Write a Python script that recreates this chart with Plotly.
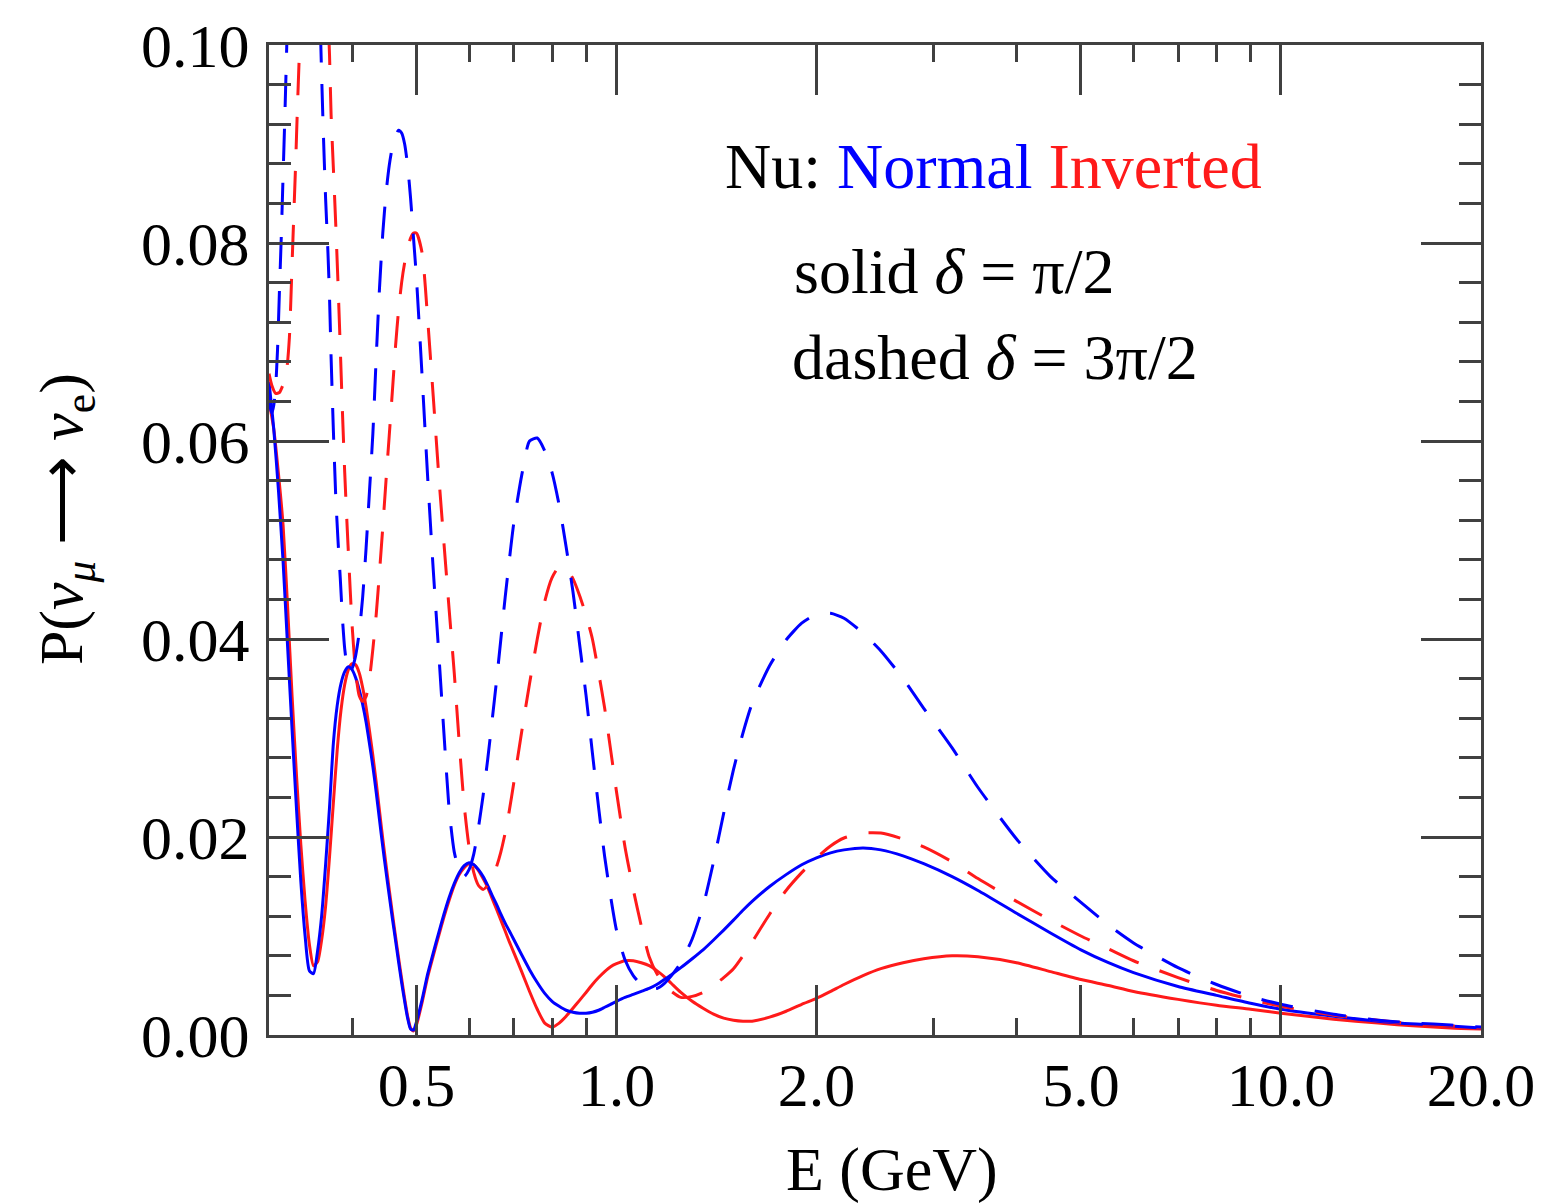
import math
import plotly.graph_objects as go

# Neutrino energy grid (GeV) shared by the two solid curves
energy = [
    0.300, 0.305, 0.310, 0.315, 0.320, 0.325, 0.330, 0.335, 0.340, 0.345,
    0.350, 0.355, 0.360, 0.365, 0.370, 0.375, 0.380, 0.385, 0.390, 0.395,
    0.400, 0.405, 0.410, 0.415, 0.420, 0.425, 0.430, 0.435, 0.440, 0.445,
    0.450, 0.455, 0.460, 0.465, 0.470, 0.475, 0.480, 0.485, 0.490, 0.495,
    0.500, 0.51, 0.52, 0.53, 0.54, 0.55, 0.56, 0.57, 0.58, 0.59,
    0.60, 0.61, 0.62, 0.63, 0.64, 0.65, 0.66, 0.67, 0.68, 0.69,
    0.70, 0.72, 0.74, 0.76, 0.78, 0.80, 0.82, 0.84, 0.86, 0.88,
    0.90, 0.92, 0.94, 0.96, 0.98, 1.00, 1.03, 1.06, 1.09, 1.12,
    1.15, 1.18, 1.21, 1.25, 1.30, 1.35, 1.40, 1.45, 1.50, 1.55,
    1.60, 1.70, 1.80, 1.90, 2.00, 2.10, 2.20, 2.35, 2.50, 2.70,
    2.90, 3.20, 3.50, 4.00, 4.50, 5.00, 5.50, 6.00, 7.00, 8.00,
    9.00, 10.0, 12.0, 14.0, 16.0, 18.0, 20.0,
]

# Normal ordering, delta = pi/2
p_normal_solid = [
    0.0660, 0.0612, 0.0550, 0.0478, 0.0392, 0.0308, 0.0228, 0.0155, 0.0100, 0.0065,
    0.0062, 0.0085, 0.0120, 0.0172, 0.0230, 0.0295, 0.0333, 0.0355, 0.0367, 0.0372,
    0.0369, 0.0361, 0.0349, 0.0334, 0.0316, 0.0294, 0.0271, 0.0245, 0.0217, 0.0190,
    0.0165, 0.0141, 0.0118, 0.0096, 0.0074, 0.0053, 0.0034, 0.0017, 0.0006, 0.0005,
    0.0013, 0.0036, 0.0062, 0.0083, 0.0103, 0.0122, 0.0139, 0.0153, 0.0164, 0.0171,
    0.0174, 0.0172, 0.0167, 0.0160, 0.0151, 0.0141, 0.0132, 0.0122, 0.0113, 0.0105,
    0.0097, 0.0081, 0.0066, 0.0053, 0.0042, 0.0034, 0.0029, 0.0025, 0.0023, 0.0022,
    0.0022, 0.0023, 0.0025, 0.0028, 0.0031, 0.0034, 0.0038, 0.0041, 0.0044, 0.0047,
    0.0051, 0.0056, 0.0061, 0.0068, 0.0077, 0.0086, 0.0096, 0.0106, 0.0116, 0.0126,
    0.0135, 0.0150, 0.0162, 0.0172, 0.0179, 0.0184, 0.0187, 0.0189, 0.0187, 0.0181,
    0.0173, 0.0160, 0.0146, 0.0123, 0.0103, 0.0086, 0.0073, 0.0063, 0.0049, 0.0040,
    0.0032, 0.0026, 0.0019, 0.0014, 0.0011, 0.0009, 0.0007,
]

# Inverted ordering, delta = pi/2
p_inverted_solid = [
    0.0640, 0.0612, 0.0567, 0.0515, 0.0432, 0.0342, 0.0262, 0.0192, 0.0135, 0.0092,
    0.0070, 0.0074, 0.0096, 0.0130, 0.0180, 0.0235, 0.0288, 0.0328, 0.0354, 0.0369,
    0.0375, 0.0374, 0.0366, 0.0351, 0.0331, 0.0307, 0.0282, 0.0255, 0.0226, 0.0198,
    0.0172, 0.0147, 0.0123, 0.0100, 0.0078, 0.0057, 0.0037, 0.0019, 0.0007, 0.0004,
    0.0010, 0.0033, 0.0059, 0.0080, 0.0100, 0.0119, 0.0136, 0.0151, 0.0162, 0.0169,
    0.0173, 0.0172, 0.0166, 0.0158, 0.0149, 0.0138, 0.0127, 0.0116, 0.0105, 0.0094,
    0.0084, 0.0064, 0.0044, 0.0026, 0.0012, 0.0008, 0.0012, 0.0019, 0.0027, 0.0035,
    0.0043, 0.0051, 0.0058, 0.0064, 0.0069, 0.0072, 0.0075, 0.0075, 0.0073, 0.0070,
    0.0065, 0.0059, 0.0052, 0.0043, 0.0034, 0.0027, 0.0021, 0.0017, 0.0015, 0.0014,
    0.0014, 0.0018, 0.0024, 0.0031, 0.0037, 0.0044, 0.0051, 0.0060, 0.0067, 0.0073,
    0.0077, 0.0080, 0.0079, 0.0073, 0.0064, 0.0056, 0.0050, 0.0044, 0.0036, 0.0030,
    0.0026, 0.0022, 0.0016, 0.0012, 0.0009, 0.0007, 0.0006,
]

# Normal ordering, delta = 3pi/2 (leaves the frame above 0.10 near 0.33 GeV)
energy_normal_dashed = [
    0.300, 0.3015, 0.303, 0.305, 0.307, 0.309, 0.311, 0.313, 0.315, 0.317,
    0.319, 0.3195, None,
    0.3585, 0.360, 0.362, 0.365, 0.368, 0.370, 0.372, 0.375, 0.378, 0.381,
    0.384, 0.387, 0.390, 0.393, 0.396, 0.400, 0.405, 0.410, 0.415, 0.420,
    0.425, 0.430, 0.435, 0.440, 0.445, 0.450, 0.455, 0.460, 0.465, 0.470,
    0.475, 0.480, 0.485, 0.490, 0.495, 0.500, 0.51, 0.52, 0.53, 0.54,
    0.55, 0.56, 0.57, 0.58, 0.59, 0.60, 0.61, 0.62, 0.63, 0.64,
    0.65, 0.66, 0.67, 0.68, 0.69, 0.70, 0.72, 0.74, 0.76, 0.78,
    0.80, 0.82, 0.84, 0.86, 0.88, 0.90, 0.92, 0.94, 0.96, 0.98,
    1.00, 1.03, 1.06, 1.09, 1.12, 1.15, 1.18, 1.21, 1.25, 1.30,
    1.35, 1.40, 1.45, 1.50, 1.55, 1.60, 1.70, 1.80, 1.90, 2.00,
    2.10, 2.20, 2.35, 2.50, 2.70, 2.90, 3.20, 3.50, 4.00, 4.50,
    5.00, 5.50, 6.00, 7.00, 8.00, 9.00, 10.0, 12.0, 14.0, 16.0,
    18.0, 20.0,
]
p_normal_dashed = [
    0.0645, 0.0633, 0.0628, 0.0636, 0.0655, 0.0692, 0.0750, 0.0805, 0.0868, 0.0930,
    0.0998, 0.1015, None,
    0.1015, 0.0970, 0.0915, 0.0845, 0.0790, 0.0745, 0.0685, 0.0610, 0.0545, 0.0500,
    0.0462, 0.0420, 0.0390, 0.0373, 0.0366, 0.0370, 0.0383, 0.0406, 0.0442, 0.0492,
    0.0550, 0.0608, 0.0685, 0.0755, 0.0810, 0.0850, 0.0878, 0.0897, 0.0908, 0.0914,
    0.0911, 0.0900, 0.0878, 0.0845, 0.0805, 0.0765, 0.0665, 0.0562, 0.0470, 0.0388,
    0.0305, 0.0228, 0.0185, 0.0166, 0.0160, 0.0167, 0.0183, 0.0210, 0.0242, 0.0278,
    0.0318, 0.0358, 0.0400, 0.0442, 0.0480, 0.0515, 0.0565, 0.0600, 0.0603, 0.0590,
    0.0568, 0.0535, 0.0493, 0.0448, 0.0395, 0.0343, 0.0285, 0.0230, 0.0180, 0.0140,
    0.0106, 0.0076, 0.0060, 0.0051, 0.0047, 0.0047, 0.0052, 0.0060, 0.0073, 0.0097,
    0.0130, 0.0175, 0.0224, 0.0268, 0.0305, 0.0335, 0.0373, 0.0399, 0.0416, 0.0425,
    0.0426, 0.0421, 0.0406, 0.0388, 0.0360, 0.0330, 0.0290, 0.0250, 0.0198, 0.0160,
    0.0134, 0.0111, 0.0093, 0.0068, 0.0051, 0.0039, 0.0031, 0.0021, 0.0015, 0.0012,
    0.0010, 0.0008,
]

# Inverted ordering, delta = 3pi/2
energy_inverted_dashed = [
    0.300, 0.303, 0.307, 0.311, 0.315, 0.319, 0.322, 0.325, 0.327, 0.329,
    0.331, 0.333, 0.334, None,
    0.369, 0.370, 0.372, 0.375, 0.378, 0.381, 0.384, 0.387, 0.390, 0.393,
    0.396, 0.400, 0.405, 0.410, 0.415, 0.420, 0.425, 0.430, 0.435, 0.440,
    0.445, 0.450, 0.455, 0.460, 0.465, 0.470, 0.475, 0.480, 0.485, 0.490,
    0.495, 0.500, 0.51, 0.52, 0.53, 0.54, 0.55, 0.56, 0.57, 0.58,
    0.59, 0.60, 0.61, 0.62, 0.63, 0.64, 0.65, 0.66, 0.67, 0.68,
    0.69, 0.70, 0.72, 0.74, 0.76, 0.78, 0.80, 0.82, 0.84, 0.86,
    0.88, 0.90, 0.92, 0.94, 0.96, 0.98, 1.00, 1.03, 1.06, 1.09,
    1.12, 1.15, 1.18, 1.21, 1.25, 1.30, 1.35, 1.40, 1.45, 1.50,
    1.55, 1.60, 1.70, 1.80, 1.90, 2.00, 2.10, 2.20, 2.35, 2.50,
    2.70, 2.90, 3.20, 3.50, 4.00, 4.50, 5.00, 5.50, 6.00, 7.00,
    8.00, 9.00, 10.0, 12.0, 14.0, 16.0, 18.0, 20.0,
]
p_inverted_dashed = [
    0.0668, 0.0656, 0.0648, 0.0649, 0.0657, 0.0672, 0.0705, 0.0780, 0.0830, 0.0880,
    0.0935, 0.0985, 0.1012, None,
    0.1012, 0.0990, 0.0930, 0.0875, 0.0820, 0.0760, 0.0695, 0.0628, 0.0568, 0.0518,
    0.0472, 0.0415, 0.0367, 0.0343, 0.0337, 0.0342, 0.0360, 0.0390, 0.0425, 0.0468,
    0.0513, 0.0560, 0.0605, 0.0650, 0.0695, 0.0732, 0.0760, 0.0780, 0.0795, 0.0805,
    0.0810, 0.0810, 0.0790, 0.0722, 0.0645, 0.0567, 0.0497, 0.0430, 0.0366, 0.0295,
    0.0232, 0.0190, 0.0164, 0.0151, 0.0147, 0.0151, 0.0159, 0.0170, 0.0185, 0.0204,
    0.0227, 0.0253, 0.0306, 0.0355, 0.0400, 0.0438, 0.0462, 0.0473, 0.0471, 0.0461,
    0.0444, 0.0424, 0.0400, 0.0366, 0.0330, 0.0288, 0.0246, 0.0190, 0.0147, 0.0110,
    0.0079, 0.0062, 0.0051, 0.0044, 0.0038, 0.0039, 0.0043, 0.0050, 0.0058, 0.0067,
    0.0080, 0.0094, 0.0122, 0.0146, 0.0164, 0.0179, 0.0191, 0.0199, 0.0204, 0.0204,
    0.0198, 0.0190, 0.0175, 0.0158, 0.0135, 0.0116, 0.0100, 0.0087, 0.0075, 0.0058,
    0.0045, 0.0036, 0.0029, 0.0020, 0.0015, 0.0011, 0.0009, 0.0007,
]

# Axis ticks
x_tick_vals = [0.5, 1, 2, 5, 10, 20]
x_tick_text = ["0.5", "1.0", "2.0", "5.0", "10.0", "20.0"]
x_minor_vals = [0.4, 0.6, 0.7, 0.8, 0.9, 3, 4, 6, 7, 8, 9]
y_tick_vals = [0.0, 0.02, 0.04, 0.06, 0.08, 0.10]
y_tick_text = ["0.00", "0.02", "0.04", "0.06", "0.08", "0.10"]
y_minor_vals = [0.004, 0.008, 0.012, 0.016, 0.024, 0.028, 0.032, 0.036,
                0.044, 0.048, 0.052, 0.056, 0.064, 0.068, 0.072, 0.076,
                0.084, 0.088, 0.092, 0.096]

BLUE = "#0000ff"
RED = "#ff1a1a"
FRAME = "#404040"
SERIF = "Liberation Serif, Times New Roman, serif"
DASH = "32px,22px"

fig = go.Figure()

curves = [
    (energy, p_inverted_solid, RED, "solid"),
    (energy, p_normal_solid, BLUE, "solid"),
    (energy_inverted_dashed, p_inverted_dashed, RED, DASH),
    (energy_normal_dashed, p_normal_dashed, BLUE, DASH),
]
for xs, ys, color, dash in curves:
    fig.add_trace(go.Scatter(
        x=xs, y=ys, mode="lines",
        line=dict(color=color, width=3, dash=dash, shape="spline", smoothing=0.6),
        connectgaps=False, showlegend=False, hoverinfo="skip",
    ))

fig.update_xaxes(
    type="log", range=[math.log10(0.3), math.log10(20)],
    tickmode="array", tickvals=x_tick_vals, ticktext=x_tick_text,
    ticks="inside", ticklen=50, tickwidth=3, tickcolor=FRAME,
    minor=dict(tickmode="array", tickvals=x_minor_vals, ticks="inside",
               ticklen=17, tickwidth=3, tickcolor=FRAME, showgrid=False),
    showline=True, linecolor=FRAME, linewidth=3, mirror="ticks",
    showgrid=False, zeroline=False,
    tickfont=dict(family=SERIF, size=62, color="black"),
    ticklabelstandoff=-6,
)
fig.update_yaxes(
    range=[0, 0.1],
    tickmode="array", tickvals=y_tick_vals, ticktext=y_tick_text,
    ticks="inside", ticklen=60, tickwidth=3, tickcolor=FRAME,
    minor=dict(tickmode="array", tickvals=y_minor_vals, ticks="inside",
               ticklen=22, tickwidth=3, tickcolor=FRAME, showgrid=False),
    showline=True, linecolor=FRAME, linewidth=3, mirror="ticks",
    showgrid=False, zeroline=False,
    tickfont=dict(family=SERIF, size=62, color="black"),
    ticklabelstandoff=4,
)

annotations = [
    dict(text="Nu: <span style='color:#0000ff'>Normal</span> "
              "<span style='color:#ff1a1a'>Inverted</span>",
         x=0.3746, y=0.8773, xanchor="left", yanchor="middle", font_size=64),
    dict(text="solid <i>δ</i> = π/2", x=0.4319, y=0.7716,
         xanchor="left", yanchor="middle", font_size=64),
    dict(text="dashed <i>δ</i> = 3π/2", x=0.4302, y=0.6841,
         xanchor="left", yanchor="middle", font_size=64),
    dict(text="E (GeV)", x=0.5137, y=-0.1358,
         xanchor="center", yanchor="middle", font_size=62),
    dict(text="P(<i>ν</i><sub><i>μ</i></sub> ⟶ <i>ν</i><sub>e</sub>)",
         x=0, xshift=-204, y=0.5211, textangle=-90,
         xanchor="center", yanchor="middle", font_size=62),
]
for a in annotations:
    a.update(xref="paper", yref="paper", showarrow=False)
    a["font"] = dict(family=SERIF, size=a.pop("font_size"), color="black")
    fig.add_annotation(**a)

fig.update_layout(
    width=1547, height=1203,
    margin=dict(l=269, r=55, t=41, b=168),
    paper_bgcolor="white", plot_bgcolor="white",
    showlegend=False,
)

fig.write_html("out.html")
